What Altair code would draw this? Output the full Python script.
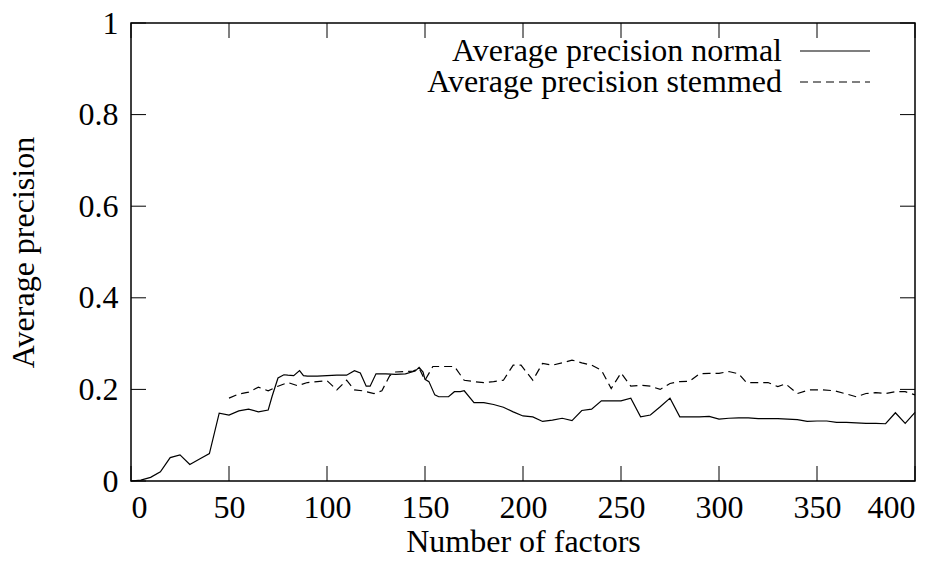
import altair as alt
import pandas as pd

# ---- data ----
normal_x = [0, 5, 10, 15, 20, 25, 30, 35, 40, 45, 50, 55, 60, 65, 70, 72, 75, 78, 80, 83, 86, 88, 90, 95, 100,
            105, 110, 114, 117, 120, 122, 125, 130, 135, 140, 145, 147, 149, 150, 152, 155, 157, 162, 165,
            168, 170, 175, 180, 185, 190, 195, 200, 205, 210, 215, 220, 225, 230, 235, 240, 245, 250, 255,
            260, 265, 270, 275, 280, 285, 290, 295, 300, 305, 310, 315, 320, 325, 330, 335, 340, 345, 350,
            355, 360, 365, 370, 375, 380, 385, 390, 395, 400]
normal_y = [0.0, 0.002, 0.008, 0.020, 0.051, 0.057, 0.036, 0.048, 0.060, 0.148, 0.144, 0.153, 0.157, 0.151,
            0.155, 0.185, 0.225, 0.232, 0.231, 0.230, 0.241, 0.230, 0.229, 0.229, 0.230,
            0.231, 0.231, 0.241, 0.236, 0.207, 0.207, 0.234, 0.234, 0.233, 0.234, 0.240, 0.248, 0.238,
            0.222, 0.217, 0.188, 0.184, 0.184, 0.195, 0.195, 0.197, 0.171, 0.171, 0.167, 0.161, 0.151,
            0.142, 0.140, 0.130, 0.133, 0.137, 0.132, 0.154, 0.157, 0.175, 0.175, 0.175, 0.181,
            0.140, 0.144, 0.162, 0.181, 0.140, 0.140, 0.140, 0.141, 0.135, 0.137, 0.138, 0.138, 0.136,
            0.136, 0.136, 0.135, 0.134, 0.130, 0.131, 0.131, 0.128, 0.128, 0.127, 0.126, 0.126, 0.125,
            0.149, 0.126, 0.150]

stemmed_x = [50, 55, 60, 65, 70, 75, 80, 85, 90, 95, 100, 105, 110, 114, 118, 124, 128, 132, 135, 140, 144,
             147, 150, 154, 160, 165, 170, 175, 180, 185, 190, 195, 199, 205, 210, 215, 220, 225, 230, 235,
             240, 245, 250, 255, 260, 265, 270, 275, 280, 285, 290, 295, 300, 305, 310, 314, 320, 325, 330,
             334, 340, 346, 353, 359, 365, 370, 375, 380, 385, 390, 395, 400]
stemmed_y = [0.181, 0.190, 0.194, 0.205, 0.197, 0.207, 0.215, 0.208, 0.215, 0.217, 0.219, 0.199, 0.220,
             0.199, 0.197, 0.191, 0.197, 0.230, 0.238, 0.239, 0.240, 0.246, 0.220, 0.250, 0.250, 0.250,
             0.220, 0.217, 0.215, 0.217, 0.220, 0.253, 0.253, 0.220, 0.257, 0.253, 0.258, 0.264, 0.258,
             0.253, 0.242, 0.202, 0.236, 0.207, 0.209, 0.207, 0.200, 0.213, 0.217, 0.218, 0.234, 0.235,
             0.235, 0.239, 0.234, 0.215, 0.215, 0.215, 0.206, 0.212, 0.191, 0.199, 0.199, 0.197, 0.190,
             0.184, 0.191, 0.193, 0.191, 0.195, 0.195, 0.188]

series_names = ["Average precision normal", "Average precision stemmed"]
x_ticks = [0, 50, 100, 150, 200, 250, 300, 350, 400]
y_ticks = [0, 0.2, 0.4, 0.6, 0.8, 1.0]

FONT = "Liberation Serif"
FS = 32
W, H = 784, 458

normal_df = pd.DataFrame({"x": normal_x, "y": normal_y})
stemmed_df = pd.DataFrame({"x": stemmed_x, "y": stemmed_y})
xt_df = pd.DataFrame({"x": x_ticks})
yt_df = pd.DataFrame({"y": y_ticks})
one = pd.DataFrame({"a": [0]})

xscale = alt.Scale(domain=[0, 400], nice=False, zero=False)
yscale = alt.Scale(domain=[0, 1], nice=False)

common = dict(domain=False, ticks=False, grid=False,
              labelFont=FONT, labelFontSize=FS, labelColor="black",
              titleFont=FONT, titleFontSize=FS, titleColor="black", titleFontWeight="normal")

xaxis = alt.Axis(values=x_ticks, title="Number of factors", titleY=60, titleBaseline="middle",
                 labelPadding=11, **common)
yaxis = alt.Axis(values=y_ticks, format="~g", title="Average precision", titleX=-108, titleY=H / 2,
                 titleBaseline="middle", titleAlign="center", labelPadding=13, **common)

X = alt.X("x:Q", scale=xscale, axis=xaxis)
Y = alt.Y("y:Q", scale=yscale, axis=yaxis)

normal_line = alt.Chart(normal_df).mark_line(color="black", strokeWidth=1.2).encode(x=X, y=Y)
stemmed_line = alt.Chart(stemmed_df).mark_line(color="black", strokeWidth=1.2, strokeDash=[8, 5]).encode(
    x=X, y=Y)

TL = 15
xt_bottom = alt.Chart(xt_df).mark_rule(color="black", strokeWidth=1).encode(
    x=X, y=alt.value(H), y2=alt.value(H - TL))
xt_top = alt.Chart(xt_df).mark_rule(color="black", strokeWidth=1).encode(
    x=X, y=alt.value(0), y2=alt.value(TL))
yt_left = alt.Chart(yt_df).mark_rule(color="black", strokeWidth=1).encode(
    y=Y, x=alt.value(0), x2=alt.value(TL))
yt_right = alt.Chart(yt_df).mark_rule(color="black", strokeWidth=1).encode(
    y=Y, x=alt.value(W), x2=alt.value(W - TL))

# legend (inside, top right, text then line sample)
leg_text_x = 782 - 131
leg_line_x1, leg_line_x2 = 800 - 131, 870 - 131
leg_y1, leg_y2 = 51 - 23, 82 - 23
leg_t1 = alt.Chart(one).mark_text(text=series_names[0], align="right", baseline="middle",
                                  font=FONT, fontSize=FS, color="black").encode(
    x=alt.value(leg_text_x), y=alt.value(leg_y1))
leg_t2 = alt.Chart(one).mark_text(text=series_names[1], align="right", baseline="middle",
                                  font=FONT, fontSize=FS, color="black").encode(
    x=alt.value(leg_text_x), y=alt.value(leg_y2))
leg_l1 = alt.Chart(one).mark_rule(color="black", strokeWidth=1.2).encode(
    x=alt.value(leg_line_x1), x2=alt.value(leg_line_x2), y=alt.value(leg_y1))
leg_l2 = alt.Chart(one).mark_rule(color="black", strokeWidth=1.2, strokeDash=[8, 5]).encode(
    x=alt.value(leg_line_x1), x2=alt.value(leg_line_x2), y=alt.value(leg_y2))

chart = alt.layer(
    normal_line, stemmed_line, xt_bottom, xt_top, yt_left, yt_right,
    leg_t1, leg_t2, leg_l1, leg_l2,
).properties(
    width=W, height=H,
    background="white",
    autosize=alt.AutoSizeParams(type="none"),
    padding={"left": 123, "top": 15, "right": 27, "bottom": 85},
).configure_view(
    stroke="black", strokeWidth=1.5,
)

chart.save("out.html", embed_options={"renderer": "svg", "actions": False})
